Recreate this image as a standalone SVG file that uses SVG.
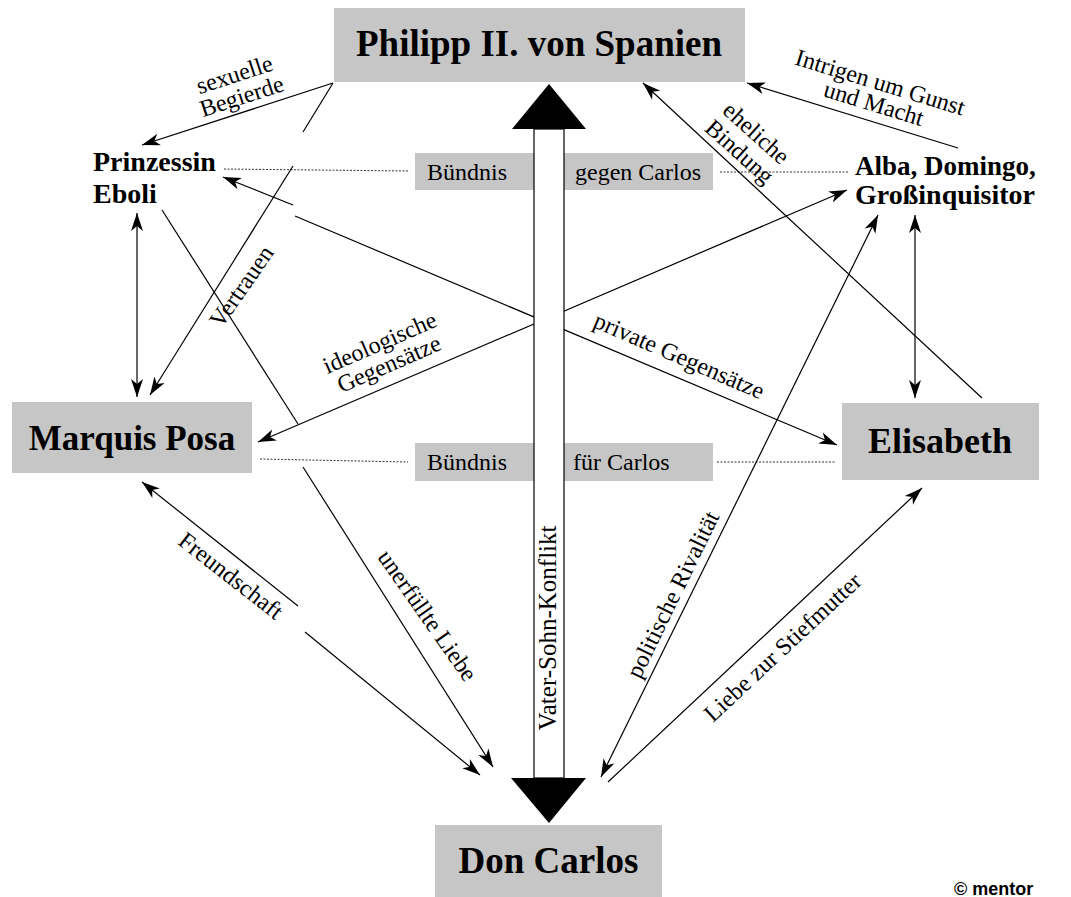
<svg xmlns="http://www.w3.org/2000/svg" width="1071" height="897" viewBox="0 0 1071 897">
<defs>
<style>
.box{fill:#c6c6c6}
.node{font-family:"Liberation Serif","Times New Roman",serif;font-weight:bold;fill:#000}
.lbl{font-family:"Liberation Serif","Times New Roman",serif;font-size:24px;fill:#000}
.ln{stroke:#000;stroke-width:1.2;fill:none}
.dot{stroke:#333;stroke-width:1;stroke-dasharray:2 1.5;fill:none}
.big{fill:#000}
.shaft{fill:#fff;stroke:#000;stroke-width:1.2}
</style>
<marker id="ah" viewBox="-19 -7 20 14" refX="0" refY="0" markerWidth="20" markerHeight="14" markerUnits="userSpaceOnUse" orient="auto-start-reverse"><path d="M0,0 L-18,-6 L-13,0 L-18,6 Z" fill="#000"/></marker>
</defs>
<rect width="1071" height="897" fill="#fff"/>

<g id="philipp"><rect class="box" x="334" y="8" width="411" height="74"/><text class="node" x="539" y="56" font-size="37" text-anchor="middle">Philipp II. von Spanien</text></g>
<g id="eboli"><text class="node" font-size="28" x="93" y="171">Prinzessin</text><text class="node" font-size="28" x="93" y="203">Eboli</text></g>
<g id="alba"><text class="node" font-size="27" x="855" y="175">Alba, Domingo,</text><text class="node" font-size="28" x="855" y="204">Großinquisitor</text></g>
<g id="posa"><rect class="box" x="12" y="402" width="240" height="71"/><text class="node" x="132" y="450" font-size="35" text-anchor="middle">Marquis Posa</text></g>
<g id="elisabeth"><rect class="box" x="842" y="403" width="197" height="77"/><text class="node" x="940" y="453" font-size="36" text-anchor="middle">Elisabeth</text></g>
<g id="carlos"><rect class="box" x="435" y="825" width="227" height="72"/><text class="node" x="548.5" y="873" font-size="37" text-anchor="middle">Don Carlos</text></g>
<g id="buendnis-gegen"><rect class="box" x="415" y="153" width="298" height="37"/><text class="lbl" x="427" y="180">Bündnis</text><text class="lbl" x="575" y="180">gegen Carlos</text></g>
<g id="buendnis-fuer"><rect class="box" x="415" y="443" width="298" height="38"/><text class="lbl" x="427" y="470">Bündnis</text><text class="lbl" x="573" y="470">für Carlos</text></g>

<g id="connectors">
<line class="dot" x1="224" y1="169" x2="408" y2="171"/>
<line class="dot" x1="720" y1="172" x2="848" y2="172"/>
<line class="dot" x1="260" y1="459" x2="408" y2="462"/>
<line class="dot" x1="717" y1="462" x2="835" y2="462"/>

<line class="ln" x1="333" y1="83" x2="142" y2="145" marker-end="url(#ah)"/>
<line class="ln" x1="333" y1="83" x2="303" y2="132"/>
<line class="ln" x1="293" y1="166" x2="150" y2="395" marker-end="url(#ah)"/>
<line class="ln" x1="137" y1="213" x2="137" y2="397" marker-start="url(#ah)" marker-end="url(#ah)"/>
<line class="ln" x1="162" y1="210" x2="298" y2="424"/>
<line class="ln" x1="303" y1="467" x2="493" y2="767" marker-end="url(#ah)"/>
<line class="ln" x1="223" y1="177" x2="293" y2="205" marker-start="url(#ah)"/>
<line class="ln" x1="295" y1="216" x2="837" y2="445" marker-end="url(#ah)"/>
<line class="ln" x1="847" y1="190" x2="258" y2="442" marker-start="url(#ah)" marker-end="url(#ah)"/>
<line class="ln" x1="878" y1="215" x2="601" y2="777" marker-start="url(#ah)" marker-end="url(#ah)"/>
<line class="ln" x1="915" y1="215" x2="915" y2="398" marker-start="url(#ah)" marker-end="url(#ah)"/>
<line class="ln" x1="958" y1="148" x2="747" y2="83" marker-end="url(#ah)"/>
<line class="ln" x1="982" y1="398" x2="643" y2="83" marker-end="url(#ah)"/>
<line class="ln" x1="142" y1="482" x2="298" y2="606" marker-start="url(#ah)"/>
<line class="ln" x1="305" y1="632" x2="480" y2="775" marker-end="url(#ah)"/>
<line class="ln" x1="608" y1="782" x2="922" y2="488" marker-end="url(#ah)"/>

<text class="lbl" text-anchor="middle" transform="translate(237,82) rotate(-18)">sexuelle<tspan x="0" dy="23">Begierde</tspan></text>
<text class="lbl" text-anchor="middle" transform="translate(878,90) rotate(17)">Intrigen um Gunst<tspan x="0" dy="22">und Macht</tspan></text>
<text class="lbl" text-anchor="middle" transform="translate(751,139) rotate(42)">eheliche<tspan x="0" dy="25">Bindung</tspan></text>
<text class="lbl" text-anchor="middle" transform="translate(248,291) rotate(-55)">Vertrauen</text>
<text class="lbl" text-anchor="middle" transform="translate(383,350) rotate(-23.5)">ideologische<tspan x="0" dy="23">Gegensätze</tspan></text>
<text class="lbl" text-anchor="middle" transform="translate(676,363) rotate(23.5)">private Gegensätze</text>
<text class="lbl" text-anchor="middle" transform="translate(421,620) rotate(55)">unerfüllte Liebe</text>
<text class="lbl" text-anchor="middle" transform="translate(226,582) rotate(38)">Freundschaft</text>
<text class="lbl" text-anchor="middle" transform="translate(680,598) rotate(-64)">politische Rivalität</text>
<text class="lbl" text-anchor="middle" transform="translate(788,653) rotate(-43)">Liebe zur Stiefmutter</text>

<g id="vater-sohn">
<rect class="shaft" x="534" y="129" width="30" height="649"/>
<polygon class="big" points="512,129 586,129 549,84"/>
<polygon class="big" points="511,778 586,778 549,823"/>
<text class="lbl" style="font-size:25px" text-anchor="middle" transform="translate(556,628) rotate(-90)">Vater-Sohn-Konflikt</text>
</g>
</g>

<text x="954" y="895" font-family="'Liberation Sans',Arial,sans-serif" font-weight="bold" font-size="18">© mentor</text>
</svg>
